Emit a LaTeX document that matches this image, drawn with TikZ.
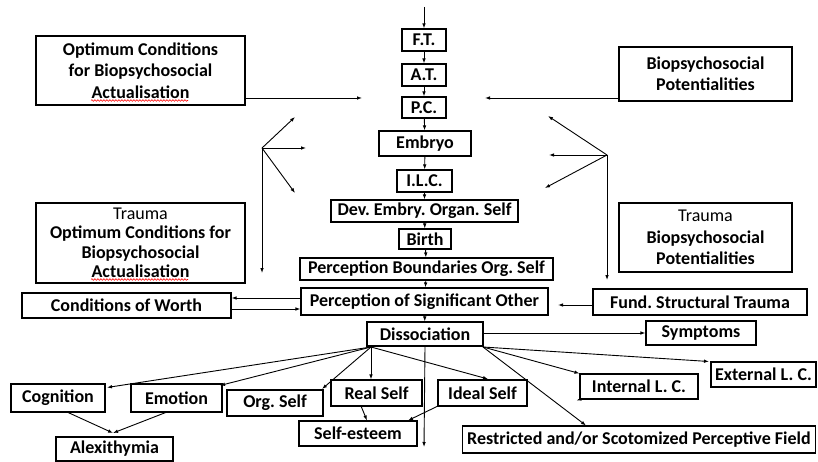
\documentclass[tikz,border=0pt]{standalone}
\usepackage{fontspec}
\setmainfont{Carlito}
\usetikzlibrary{arrows.meta,decorations.pathmorphing}
\begin{document}
\frenchspacing
\begin{tikzpicture}[x=1pt,y=-1pt,
  box/.style={draw,line width=1.1pt,inner sep=0pt,align=center,
    font=\fontsize{18}{21.5}\selectfont\bfseries},
  tight/.style={font=\fontsize{18}{19.5}\selectfont\bfseries},
  link/.style={line width=0.9pt,-{Latex[length=5pt,width=3.6pt]}},
  spell/.style={red,line width=0.6pt,decorate,
    decoration={snake,amplitude=0.8pt,segment length=3pt}}]
\useasboundingbox (0,0) rectangle (818,462);

% central developmental column
\node[box,minimum width=44pt,minimum height=22pt] (ft) at (424,40) {F.T.};
\node[box,minimum width=44pt,minimum height=22pt] (at) at (424,75) {A.T.};
\node[box,minimum width=44pt,minimum height=21pt] (pc) at (424,107.5) {P.C.};
\node[box,minimum width=92pt,minimum height=25pt] (embryo) at (425,143.5) {Embryo};
\node[box,minimum width=55pt,minimum height=22pt] (ilc) at (424.5,181) {I.L.C.};
\node[box,minimum width=187pt,minimum height=22pt] (dev) at (424.5,211) {Dev. Embry. Organ. Self};
\node[box,minimum width=52pt,minimum height=20pt] (birth) at (425,239) {Birth};
\node[box,minimum width=253pt,minimum height=22pt] (pbos) at (426.5,269) {Perception Boundaries Org. Self};
\node[box,minimum width=247pt,minimum height=27pt] (poso) at (424.5,301.5) {Perception of Significant Other};
\node[box,minimum width=116pt,minimum height=24pt] (diss) at (425,334) {Dissociation};

% side influences
\node[box,minimum width=209pt,minimum height=69pt] (oc) at (140.5,70.5)
  {Optimum Conditions\\for Biopsychosocial\\Actualisation};
\node[box,tight,minimum width=209pt,minimum height=80pt] (toc) at (140.5,243)
  {\mdseries Trauma\\Optimum Conditions for\\Biopsychosocial\\Actualisation};
\node[box,minimum width=209pt,minimum height=25pt] (cow) at (126.5,305.5) {Conditions of Worth};
\node[box,minimum width=173pt,minimum height=54pt] (bp) at (705.5,74)
  {Biopsychosocial\\Potentialities};
\node[box,minimum width=173pt,minimum height=69pt] (tbp) at (705.5,237.5)
  {\mdseries Trauma\\Biopsychosocial\\Potentialities};
\node[box,minimum width=214pt,minimum height=26pt] (fst) at (700,302) {Fund. Structural Trauma};

% outcomes of dissociation
\node[box,minimum width=110pt,minimum height=24pt] (sym) at (701,333) {Symptoms};
\node[box,minimum width=105pt,minimum height=25pt] (ext) at (763.5,374.5) {External L. C.};
\node[box,minimum width=118pt,minimum height=25pt] (intl) at (639,386.5) {Internal L. C.};
\node[box,minimum width=353pt,minimum height=27pt] (rspf) at (639,439.5) {Restricted and/or Scotomized Perceptive Field};
\node[box,minimum width=89pt,minimum height=26pt] (ideal) at (482.5,393) {Ideal Self};
\node[box,minimum width=91pt,minimum height=26pt] (real) at (376.5,393) {Real Self};
\node[box,minimum width=96pt,minimum height=26pt] (org) at (275,403) {Org. Self};
\node[box,minimum width=91pt,minimum height=28pt] (emo) at (176.5,398) {Emotion};
\node[box,minimum width=94pt,minimum height=28pt] (cog) at (58,398) {Cognition};
\node[box,minimum width=117pt,minimum height=24pt] (alex) at (114.5,449) {Alexithymia};
\node[box,minimum width=118pt,minimum height=25pt] (se) at (358,433.5) {Self-esteem};

% spelling marks under "Actualisation"
\draw[spell] (91,100.5) -- (188,100.5);
\draw[spell] (91,279.5) -- (188,279.5);

% chain of development
\coordinate (start) at (424,7);
\draw[link] (start) -- (ft);
\draw[link] (ft) -- (at);
\draw[link] (at) -- (pc);
\draw[link] (pc) -- (embryo);
\draw[link] (embryo) -- (ilc);
\draw[link] (ilc) -- (dev);
\draw[link] (dev) -- (birth);
\draw[link] (birth) -- (pbos);
\draw[link] (pbos) -- (poso);
\draw[link] (poso) -- (diss);

% conditions and potentialities feeding the chain
\coordinate (ocin) at (362,98);
\coordinate (bpin) at (485,98);
\draw[link] (oc.east |- ocin) -- (ocin);
\draw[link] (bp.west |- bpin) -- (bpin);

% left fan of trauma influences
\coordinate (lf) at (262,148);
\coordinate (lf1) at (295,117);
\coordinate (lf2) at (306,148);
\coordinate (lf3) at (295,193);
\coordinate (lf4) at (262,273);
\draw[link] (lf) -- (lf1);
\draw[link] (lf) -- (lf2);
\draw[link] (lf) -- (lf3);
\draw[link] (lf) -- (lf4);

% right fan of trauma influences
\coordinate (rf) at (607,155);
\coordinate (rf1) at (548,116);
\coordinate (rf2) at (549,155);
\coordinate (rf3) at (545,188);
\coordinate (rf4) at (607,280);
\draw[link] (rf) -- (rf1);
\draw[link] (rf) -- (rf2);
\draw[link] (rf) -- (rf3);
\draw[link] (rf) -- (rf4);

% exchanges with the significant other
\draw[link] (poso.west |- 0,298) -- (cow.east |- 0,298);
\draw[link] (cow.east |- 0,309) -- (poso.west |- 0,309);
\coordinate (fstin) at (558,305);
\draw[link] (fst.west |- fstin) -- (fstin);

% branches out of dissociation
\coordinate (dl) at (371,347);
\coordinate (dr) at (483,347);
\draw[link] (diss.east |- sym) -- (sym.west);
\draw[link] (dr) -- (709,361.5) coordinate (extin);
\draw[link] (dr) -- (intl.north west);
\draw[link] (dr) -- (586,425.5) coordinate (rspfin);
\draw[link] (dl) -- (488,379) coordinate (idealin);
\draw[link] (dl) -- (dl |- real.north);
\draw[link] (dl) -- (322,389) coordinate (orgin);
\draw[link] (dl) -- (220,385.5) coordinate (emoin);
\draw[link] (dl) -- (107,387.5) coordinate (cogin);
\coordinate (down) at (424,447);
\draw[link] (diss.south) -- (down);
\draw[link] (intl.south west) -- ++(-3,1);

% merging into alexithymia and self-esteem
\coordinate (alexin) at (113,433);
\draw[link] (67,412) -- (alexin);
\draw[link] (167,412) -- (alexin);
\draw[link] (361,406) -- (367,420.5);
\draw[link] (438,406) -- (408,420.5);
\end{tikzpicture}
\end{document}
